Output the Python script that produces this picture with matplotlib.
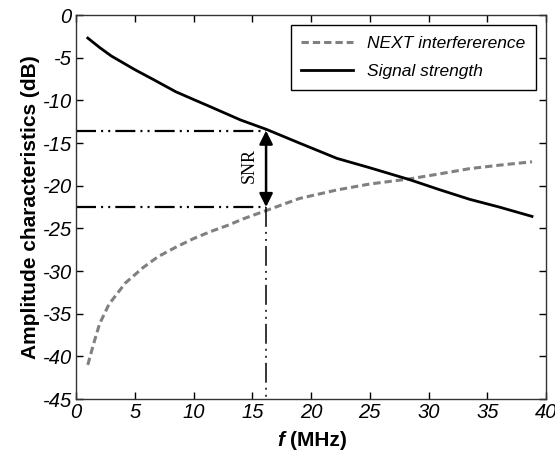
import matplotlib
matplotlib.use('Agg')
import matplotlib.pyplot as plt
import numpy as np

matplotlib.rcParams.update({'font.family': 'Liberation Sans', 'font.size': 12,
                            'axes.unicode_minus': False})

# signal strength curve
sig_f = [1, 2, 3, 4, 5, 6.5, 8.5, 10, 11.35, 14, 16.2, 19, 22.2, 25, 28.4, 31, 33.5, 36, 38.8]
sig_db = [-2.7, -3.8, -4.8, -5.6, -6.4, -7.5, -9.0, -9.9, -10.7, -12.3, -13.4, -15.0,
          -16.8, -17.9, -19.3, -20.5, -21.6, -22.5, -23.6]

# NEXT interference curve
next_f = [1, 1.5, 2, 2.8, 4.2, 5.7, 7, 8.5, 10, 11.4, 13, 14.2, 16.2, 19, 22.2, 25,
          28.4, 31, 33.5, 36, 38.8]
next_db = [-41.0, -38.5, -36.2, -33.9, -31.4, -29.6, -28.3, -27.2, -26.2, -25.4, -24.6,
           -23.9, -22.9, -21.5, -20.5, -19.8, -19.2, -18.6, -18.0, -17.6, -17.2]

xticks = np.arange(0, 41, 5)
yticks = np.arange(-45, 1, 5)

f_mark = 16.17
snr_top = -13.55
snr_bot = -22.5

fig = plt.figure()
fig.set_size_inches(5.55, 4.55)
ax = fig.add_axes([0.137, 0.123, 0.847, 0.844])

ax.plot(next_f, next_db, '--', color='#808080', lw=2.2, dashes=(2.4, 1.3),
        label='NEXT interfererence')
ax.plot(sig_f, sig_db, '-', color='black', lw=2.0, label='Signal strength')

# reference lines (dash-dot-dot)
ax.plot([0, f_mark], [snr_top, snr_top], color='black', lw=1.6,
        dashes=(9, 2.3, 0.9, 2.3, 0.9, 2.3))
ax.plot([0, f_mark], [snr_bot, snr_bot], color='black', lw=1.6,
        dashes=(9, 2.3, 0.9, 2.3, 0.9, 2.3))
ax.plot([f_mark, f_mark], [snr_bot, -45], color='black', lw=1.1,
        dashes=(13, 3.3, 1.3, 3.3, 1.3, 3.3))

ax.annotate('', xy=(f_mark, snr_top), xytext=(f_mark, snr_bot),
            arrowprops=dict(arrowstyle='<|-|>', color='black', lw=1.8,
                            mutation_scale=20, shrinkA=0, shrinkB=0))
ax.text(14.75, -17.6, 'SNR', rotation=90, ha='center', va='center',
        family='Liberation Serif', fontsize=13)

ax.set_xlim(0, 40)
ax.set_ylim(-45, 0)
ax.set_xticks(xticks, labels=[str(v) for v in xticks], fontstyle='italic', fontsize=14.5)
ax.set_yticks(yticks, labels=[str(v) for v in yticks], fontstyle='italic', fontsize=14.5)
ax.tick_params(direction='in', top=True, right=True, length=5, width=1, pad=3)
for s in ax.spines.values():
    s.set_linewidth(1.0)
    s.set_color('#333333')

fig.text(0.500, 0.012, 'f', fontweight='bold', fontstyle='italic', fontsize=15, ha='left', va='bottom')
fig.text(0.522, 0.012, '(MHz)', fontweight='bold', fontsize=15, ha='left', va='bottom')
ax.set_ylabel('Amplitude characteristics (dB)', fontweight='bold', fontsize=15, labelpad=2)

leg = ax.legend(loc='upper right', prop={'style': 'italic', 'size': 12.5}, fancybox=False,
                edgecolor='black', framealpha=1, handlelength=3.0, borderaxespad=0.6,
                labelspacing=0.75, borderpad=0.6)
leg.get_frame().set_linewidth(1.0)

fig.savefig('out.png', dpi=100)
